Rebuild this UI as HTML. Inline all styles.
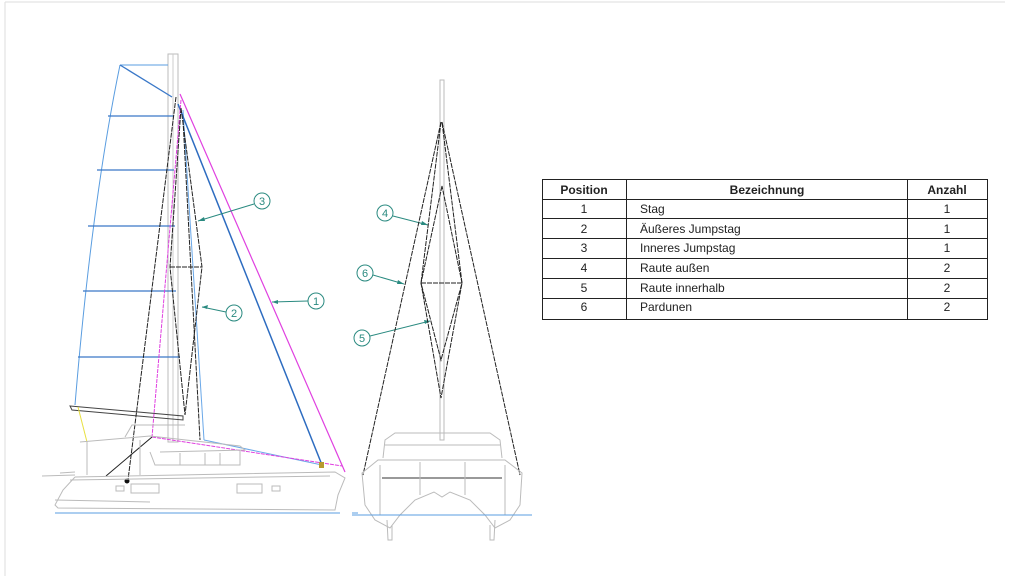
<!DOCTYPE html>
<html><head><meta charset="utf-8"><style>
body{margin:0;background:#fff;}
svg{display:block}
text{font-family:"Liberation Sans",sans-serif;}
</style></head><body>
<svg width="1024" height="576" viewBox="0 0 1024 576" xmlns="http://www.w3.org/2000/svg">
<rect width="1024" height="576" fill="#fff"/>
<line x1="5" y1="2" x2="1005" y2="2" stroke="#ddd" stroke-width="1"/>
<line x1="5" y1="2" x2="5" y2="576" stroke="#ddd" stroke-width="1"/>

<!-- SIDE VIEW -->
<g fill="none" stroke-width="1">
<rect x="168" y="54" width="10" height="388" stroke="#bbb"/>
<line x1="173" y1="54" x2="173" y2="442" stroke="#ccc"/>
<path d="M120,65 Q92,200 75,405" stroke="#5a9de0"/>
<line x1="120" y1="65" x2="168" y2="65" stroke="#5a9de0"/>
<line x1="120" y1="65" x2="172" y2="97" stroke="#3a78c8" stroke-width="1.3"/>
<g stroke="#3a78c8" stroke-width="1.3">
<line x1="108" y1="116" x2="174" y2="116"/>
<line x1="97" y1="170" x2="174" y2="170"/>
<line x1="88" y1="226" x2="175" y2="226"/>
<line x1="83" y1="291" x2="176" y2="291"/>
<line x1="78" y1="357" x2="180" y2="357"/>
</g>
<path d="M70,406 L183,416 L183,420 L72,410 Z" stroke="#444"/>
<line x1="78" y1="407" x2="87" y2="442" stroke="#e8e040"/>
<line x1="183" y1="110" x2="204" y2="440" stroke="#6aa8e8"/>
<line x1="204" y1="440" x2="322" y2="465" stroke="#6aa8e8"/>
<line x1="178" y1="104" x2="322" y2="465" stroke="#2d6cc0" stroke-width="1.5"/>
<line x1="180" y1="94" x2="345" y2="472" stroke="#e040e0" stroke-width="1.2"/>
<line x1="181" y1="100" x2="152" y2="437" stroke="#e040e0" stroke-dasharray="4,1"/>
<line x1="152" y1="437" x2="342" y2="466" stroke="#e040e0" stroke-dasharray="4,1"/>
<g stroke="#222" stroke-dasharray="5,1">
<path d="M181,108 L170,267 L185,415 M181,108 L202,267 L185,415"/>
<line x1="170" y1="267" x2="202" y2="267"/>
<line x1="176" y1="97" x2="128" y2="480"/>
<line x1="183" y1="120" x2="200" y2="440"/>
</g>
<line x1="152" y1="437" x2="106" y2="476" stroke="#222"/>
<circle cx="127" cy="481" r="2.5" fill="#111" stroke="none"/>
<g stroke="#bbb">
<path d="M125,437 L132,425 L185,425"/>
<path d="M80,442 L150,436 L240,446 L245,450 L160,452"/>
<path d="M87,442 L87,475 M140,440 L140,475"/>
<path d="M150,452 L155,465 L240,465 L240,450"/>
<line x1="180" y1="453" x2="180" y2="465"/><line x1="205" y1="453" x2="205" y2="465"/><line x1="220" y1="453" x2="220" y2="465"/>
<path d="M42,476 L75,475 M60,473 L75,472"/>
<path d="M75,477 L335,472 L345,478 L338,495 L335,510 L58,508 L55,505 L63,490 L75,477"/>
<line x1="70" y1="480" x2="330" y2="476"/>
<line x1="55" y1="500" x2="150" y2="502"/>
<rect x="116" y="486" width="8" height="5"/>
<rect x="131" y="484" width="28" height="9"/>
<rect x="237" y="484" width="25" height="9"/>
<rect x="272" y="486" width="8" height="5"/>
</g>
<rect x="319" y="462" width="5" height="6" fill="#b89a30" stroke="none"/>
<line x1="55" y1="513" x2="340" y2="513" stroke="#5a9de0"/>
<line x1="352" y1="513" x2="358" y2="513" stroke="#5a9de0"/>
</g>
<g stroke="#2a8a80" fill="none">
<circle cx="262" cy="201" r="8"/><line x1="254" y1="204" x2="198" y2="221"/>
<circle cx="234" cy="313" r="8"/><line x1="226" y1="312" x2="202" y2="307"/>
<circle cx="316" cy="301" r="8"/><line x1="308" y1="301" x2="272" y2="302"/>
<circle cx="385" cy="213" r="8"/><line x1="393" y1="216" x2="428" y2="225"/>
<circle cx="365" cy="273" r="8"/><line x1="373" y1="275" x2="404" y2="284"/>
<circle cx="362" cy="338" r="8"/><line x1="370" y1="336" x2="430" y2="321"/>
</g>
<g fill="#2a8a80">
<polygon points="198,221 204,217 205,221"/>
<polygon points="202,307 208,305 207,309"/>
<polygon points="272,302 278,300 278,304"/>
<polygon points="428,225 422,221 421,225"/>
<polygon points="404,284 398,280 397,284"/>
<polygon points="430,321 424,320 425,324"/>
</g>
<g font-size="11" fill="#2a8a80" text-anchor="middle">
<text x="262" y="205">3</text><text x="234" y="317">2</text><text x="316" y="305">1</text>
<text x="385" y="217">4</text><text x="365" y="277">6</text><text x="362" y="342">5</text>
</g>

<!-- FRONT VIEW -->
<g fill="none">
<rect x="440" y="80" width="4" height="360" stroke="#bbb"/>
<g stroke="#222" stroke-dasharray="5,1">
<line x1="441" y1="122" x2="363" y2="475"/>
<line x1="442" y1="122" x2="520" y2="475"/>
<path d="M441,122 L421,283 L441,398 L462,283 L442,122"/>
<path d="M442,186 L421,283 L441,360 L462,283 Z"/>
<line x1="421" y1="283" x2="462" y2="283"/>
</g>
<g stroke="#bbb">
<path d="M383,458 L385,440 L395,433 L490,433 L500,440 L502,458"/>
<line x1="385" y1="445" x2="500" y2="445"/>
<path d="M362,473 L378,460 L505,460 L522,473 L520,505 L510,520 L495,528 L485,515 L470,500 L450,492 L442,497 L434,492 L415,500 L400,515 L390,528 L375,520 L365,505 Z"/>
<line x1="382" y1="478" x2="502" y2="478" stroke="#999" stroke-width="2"/>
<path d="M387,520 L388,540 L392,540 L392,525 M495,520 L494,540 L490,540 L490,525"/>
<line x1="380" y1="465" x2="380" y2="515"/><line x1="505" y1="465" x2="505" y2="515"/>
<line x1="420" y1="462" x2="420" y2="495"/><line x1="465" y1="462" x2="465" y2="495"/>
</g>
<line x1="352" y1="515" x2="532" y2="515" stroke="#5a9de0"/>
</g>

<!-- TABLE -->
<g stroke="#222" stroke-width="1" fill="none">
<rect x="542.5" y="179.5" width="445" height="140"/>
<line x1="626.5" y1="179" x2="626.5" y2="320"/>
<line x1="907.5" y1="179" x2="907.5" y2="320"/>
<line x1="542" y1="199.5" x2="988" y2="199.5"/>
<line x1="542" y1="218.5" x2="988" y2="218.5"/>
<line x1="542" y1="238.5" x2="988" y2="238.5"/>
<line x1="542" y1="258.5" x2="988" y2="258.5"/>
<line x1="542" y1="278.5" x2="988" y2="278.5"/>
<line x1="542" y1="298.5" x2="988" y2="298.5"/>
</g>
<g font-size="12" fill="#222">
<g font-weight="bold" text-anchor="middle">
<text x="584" y="194">Position</text><text x="767" y="194">Bezeichnung</text><text x="947" y="194">Anzahl</text>
</g>
<g text-anchor="middle">
<text x="584" y="213">1</text><text x="584" y="233">2</text><text x="584" y="252">3</text>
<text x="584" y="272">4</text><text x="584" y="292">5</text><text x="584" y="311">6</text>
<text x="947" y="213">1</text><text x="947" y="233">1</text><text x="947" y="252">1</text>
<text x="947" y="272">2</text><text x="947" y="292">2</text><text x="947" y="311">2</text>
</g>
<text x="640" y="213">Stag</text>
<text x="640" y="233">Äußeres Jumpstag</text>
<text x="640" y="252">Inneres Jumpstag</text>
<text x="640" y="272">Raute außen</text>
<text x="640" y="292">Raute innerhalb</text>
<text x="640" y="311">Pardunen</text>
</g>
</svg>
</body></html>
